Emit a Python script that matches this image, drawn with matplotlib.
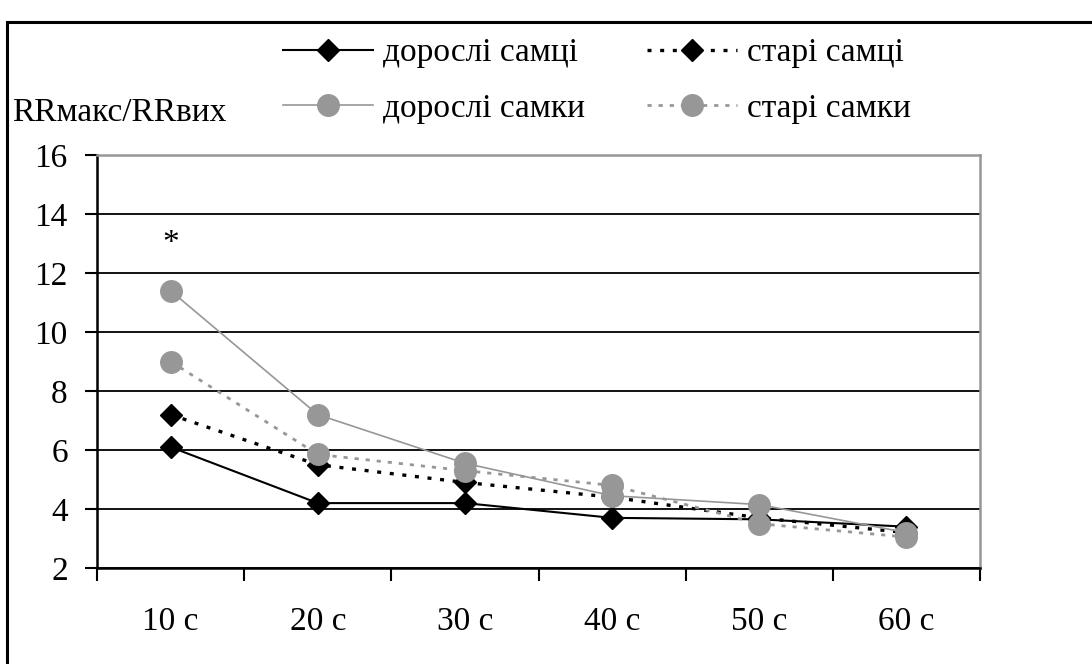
import matplotlib.pyplot as plt
from matplotlib.lines import Line2D
from matplotlib.patches import Rectangle

plt.rcParams['font.family'] = ['Liberation Serif', 'DejaVu Serif']

# дані
categories = ['10 с', '20 с', '30 с', '40 с', '50 с', '60 с']
dorosli_samtsi = [6.1, 4.2, 4.2, 3.7, 3.65, 3.4]
stari_samtsi = [7.2, 5.5, 4.9, 4.4, 3.7, 3.2]
dorosli_samky = [11.4, 7.2, 5.55, 4.45, 4.15, 3.2]
stari_samky = [9.0, 5.85, 5.3, 4.8, 3.5, 3.05]
star_pos = (0, 13.0)

gray = '#979797'
fs = 24

fig = plt.figure(figsize=(10.92, 6.64), dpi=100)
ax = fig.add_axes([97 / 1092, 1 - 568 / 664, (980 - 97) / 1092, (568 - 155) / 664])

# стилі ліній
st_ds = dict(color='black', lw=1.5, marker='D', ms=11)
st_ss = dict(color='black', lw=2.4, ls=(0, (1.2, 2.6)), marker='D', ms=11)
st_dsk = dict(color=gray, lw=1.2, marker='o', ms=15.5)
st_ssk = dict(color=gray, lw=2.0, ls=(0, (1.5, 2.5)), marker='o', ms=15.5)

x = range(len(categories))
ax.plot(x, dorosli_samtsi, zorder=4, **st_ds)
ax.plot(x, stari_samtsi, zorder=4, **st_ss)
ax.plot(x, dorosli_samky, zorder=5, **st_dsk)
ax.plot(x, stari_samky, zorder=5, **st_ssk)

ax.text(star_pos[0], star_pos[1], '*', ha='center', va='center', fontsize=fs)

ax.set_ylim(2, 16)
ax.set_yticks(range(2, 17, 2))
ax.set_xlim(-0.5, len(categories) - 0.5)
ax.set_xticks(list(x))
ax.set_xticklabels(categories)
ax.set_xticks([i - 0.5 for i in range(len(categories) + 1)], minor=True)
ax.tick_params(axis='x', which='major', length=0, pad=28, labelsize=fs)
ax.tick_params(axis='x', which='minor', length=9, width=1.5, direction='out')
ax.tick_params(axis='y', length=9, width=1.5, direction='out', pad=12, labelsize=fs)

ax.grid(axis='y', color='black', lw=1.3, zorder=1)
ax.set_axisbelow(True)
for s in ['left', 'bottom']:
    ax.spines[s].set_color('black')
    ax.spines[s].set_linewidth(1.8)
for s in ['top', 'right']:
    ax.spines[s].set_color(gray)
    ax.spines[s].set_linewidth(1.8)

fig.text(12 / 1092, 1 - 113 / 664, 'RRмакс/RRвих', ha='left', va='center', fontsize=fs)

leg_kw = dict(loc='center left', frameon=False, fontsize=fs, handlelength=2.7,
              handletextpad=0.3, labelspacing=0.75, borderpad=0, borderaxespad=0)
fig.legend([Line2D([], [], **st_ds), Line2D([], [], **st_dsk)],
           ['дорослі самці', 'дорослі самки'],
           bbox_to_anchor=(283 / 1092, 1 - 81 / 664), **leg_kw)
fig.legend([Line2D([], [], **st_ss), Line2D([], [], **st_ssk)],
           ['старі самці', 'старі самки'],
           bbox_to_anchor=(647 / 1092, 1 - 81 / 664), **leg_kw)

fig.patches.append(Rectangle((7 / 1092, -0.05), 1.2, 1 - 22 / 664 + 0.05,
                             transform=fig.transFigure, fill=False, ec='black', lw=2.2))

fig.savefig('out.png', dpi=100)
